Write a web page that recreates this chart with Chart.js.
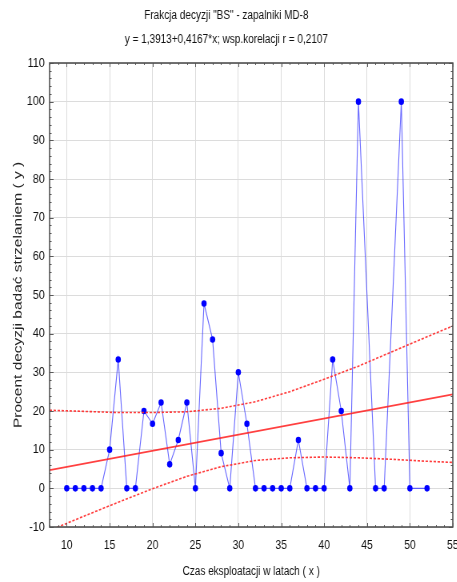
<!DOCTYPE html>
<html>
<head>
<meta charset="utf-8">
<script src="https://cdn.jsdelivr.net/npm/chart.js@4/dist/chart.umd.min.js"></script>
<style>
  html, body { margin: 0; padding: 0; background: #ffffff; }
  #wrap { width: 457px; height: 582px; overflow: hidden; position: relative; }
  /* the chart is laid out wide and shown horizontally condensed */
  #c { position: absolute; left: 0; top: 0; transform: scaleX(0.8); transform-origin: 0 0; }
</style>
</head>
<body>
<div id="wrap"><canvas id="c" width="571" height="582"></canvas></div>
<script>
// Service time in years and share of decisions ("BS") per year
const years = [10, 11, 12, 13, 14, 15, 16, 17, 18, 19, 20, 21, 22, 23, 24, 25, 26, 27, 28, 29,
               30, 31, 32, 33, 34, 35, 36, 37, 38, 39, 40, 41, 42, 43, 44, 46, 47, 49, 50, 52];
const percent = [0, 0, 0, 0, 0, 10, 33.3, 0, 0, 20, 16.7, 22.2, 6.2, 12.5, 22.2, 0, 47.8, 38.5, 9.1, 0,
                 30, 16.7, 0, 0, 0, 0, 0, 12.5, 0, 0, 0, 33.3, 20, 0, 100, 0, 0, 100, 0, 0];

// Fitted line y = 1,3913 + 0,4167*x at the ends of the x range
const fitX = [8, 55];
const fitY = [4.72, 24.31];

// Confidence band around the fitted line
const bandX = [8, 12, 16, 20, 24, 28, 32, 36, 40, 44, 48, 52, 55];
const bandUpper = [20.2, 19.9, 19.6, 19.6, 19.8, 20.7, 22.4, 25.0, 28.2, 31.6, 35.4, 39.2, 42.0];
const bandLower = [-10.9, -7.2, -3.6, -0.1, 3.1, 5.6, 7.2, 7.9, 8.1, 7.9, 7.5, 7.0, 6.7];

const xTicks = [10, 15, 20, 25, 30, 35, 40, 45, 50, 55];
const yTicks = [-10, 0, 10, 20, 30, 40, 50, 60, 70, 80, 90, 100, 110];

const titleLines = ['Frakcja decyzji "BS" - zapalniki MD-8',
                    'y = 1,3913+0,4167*x; wsp.korelacji r = 0,2107'];
const xTitle = 'Czas eksploatacji w latach ( x )';
const yTitle = 'Procent decyzji badać strzelaniem ( y )';

const FONT = "'Liberation Sans', Arial, sans-serif";

const zip = (xs, ys) => xs.map((x, i) => ({ x: x, y: ys[i] }));

// Frame with inward major and minor ticks on all four sides
const frameTicks = {
  id: 'frameTicks',
  afterDatasetsDraw(chart) {
    const { ctx, chartArea: a, scales } = chart;
    const xs = scales.x, ys = scales.y;
    ctx.save();
    ctx.strokeStyle = '#5a5a5a';
    ctx.lineWidth = 1;
    const line = (x1, y1, x2, y2) => { ctx.beginPath(); ctx.moveTo(x1, y1); ctx.lineTo(x2, y2); ctx.stroke(); };
    for (let v = 8; v <= 55; v += 1) {
      const px = Math.round(xs.getPixelForValue(v)) + 0.5;
      const len = (v % 5 === 0) ? 4 : 2;
      line(px, a.bottom, px, a.bottom - len);
      line(px, a.top, px, a.top + len);
    }
    for (let v = -10; v <= 110; v += 2) {
      const py = Math.round(ys.getPixelForValue(v)) + 0.5;
      const len = (v % 10 === 0) ? 5 : 2.5;
      line(a.left, py, a.left + len, py);
      line(a.right, py, a.right - len, py);
    }
    ctx.lineWidth = 1.6;
    ctx.strokeStyle = '#505050';
    ctx.strokeRect(a.left, a.top, a.right - a.left, a.bottom - a.top);
    ctx.restore();
  }
};

new Chart(document.getElementById('c'), {
  type: 'scatter',
  data: {
    datasets: [
      {
        label: 'upper',
        data: zip(bandX, bandUpper),
        showLine: true,
        borderColor: 'rgba(255, 40, 40, 0.9)',
        borderWidth: 1.6,
        borderDash: [3, 2],
        pointRadius: 0,
        fill: false
      },
      {
        label: 'lower',
        data: zip(bandX, bandLower),
        showLine: true,
        borderColor: 'rgba(255, 40, 40, 0.9)',
        borderWidth: 1.6,
        borderDash: [3, 2],
        pointRadius: 0,
        fill: false
      },
      {
        label: 'fit',
        data: zip(fitX, fitY),
        showLine: true,
        borderColor: 'rgba(255, 30, 30, 0.85)',
        borderWidth: 1.8,
        pointRadius: 0,
        fill: false
      },
      {
        label: 'BS',
        data: zip(years, percent),
        showLine: true,
        borderColor: 'rgba(40, 40, 255, 0.7)',
        borderWidth: 1.1,
        pointStyle: 'circle',
        pointRadius: 3.3,
        pointBackgroundColor: '#0000ff',
        pointBorderColor: '#0000ff',
        pointBorderWidth: 0,
        fill: false
      }
    ]
  },
  options: {
    responsive: false,
    animation: false,
    devicePixelRatio: 1,
    layout: { autoPadding: false, padding: { left: 0, right: 5, top: 0, bottom: 0 } },
    plugins: {
      legend: { display: false },
      tooltip: { enabled: false },
      title: {
        display: true,
        text: titleLines,
        color: '#111111',
        font: { family: FONT, size: 12.5, weight: 'normal', lineHeight: 1.9 },
        padding: { top: 4, bottom: 11.5 }
      }
    },
    scales: {
      x: {
        type: 'linear',
        min: 8,
        max: 55,
        afterFit(scale) {
          scale.height = 55;
          scale.paddingLeft = 0;
          scale.paddingRight = 0;
        },
        afterBuildTicks(scale) { scale.ticks = xTicks.map(v => ({ value: v })); },
        ticks: {
          color: '#111111',
          font: { family: FONT, size: 13 },
          padding: 11,
          maxRotation: 0
        },
        grid: { color: '#dcdcdc', lineWidth: 1, drawTicks: false },
        border: { display: false },
        title: {
          display: true,
          text: xTitle,
          color: '#111111',
          font: { family: FONT, size: 12.5 },
          padding: { top: 0, bottom: 3 }
        }
      },
      y: {
        type: 'linear',
        min: -10,
        max: 110,
        afterFit(scale) {
          scale.width = 62;
          scale.paddingTop = 0;
          scale.paddingBottom = 0;
        },
        afterBuildTicks(scale) { scale.ticks = yTicks.map(v => ({ value: v })); },
        ticks: {
          color: '#111111',
          font: { family: FONT, size: 13.5 },
          padding: 6
        },
        grid: { color: '#dcdcdc', lineWidth: 1, drawTicks: false },
        border: { display: false },
        title: {
          display: true,
          text: yTitle,
          color: '#222222',
          font: { family: FONT, size: 15.5 },
          padding: { top: 13, bottom: 0 }
        }
      }
    }
  },
  plugins: [frameTicks]
});
</script>
</body>
</html>
